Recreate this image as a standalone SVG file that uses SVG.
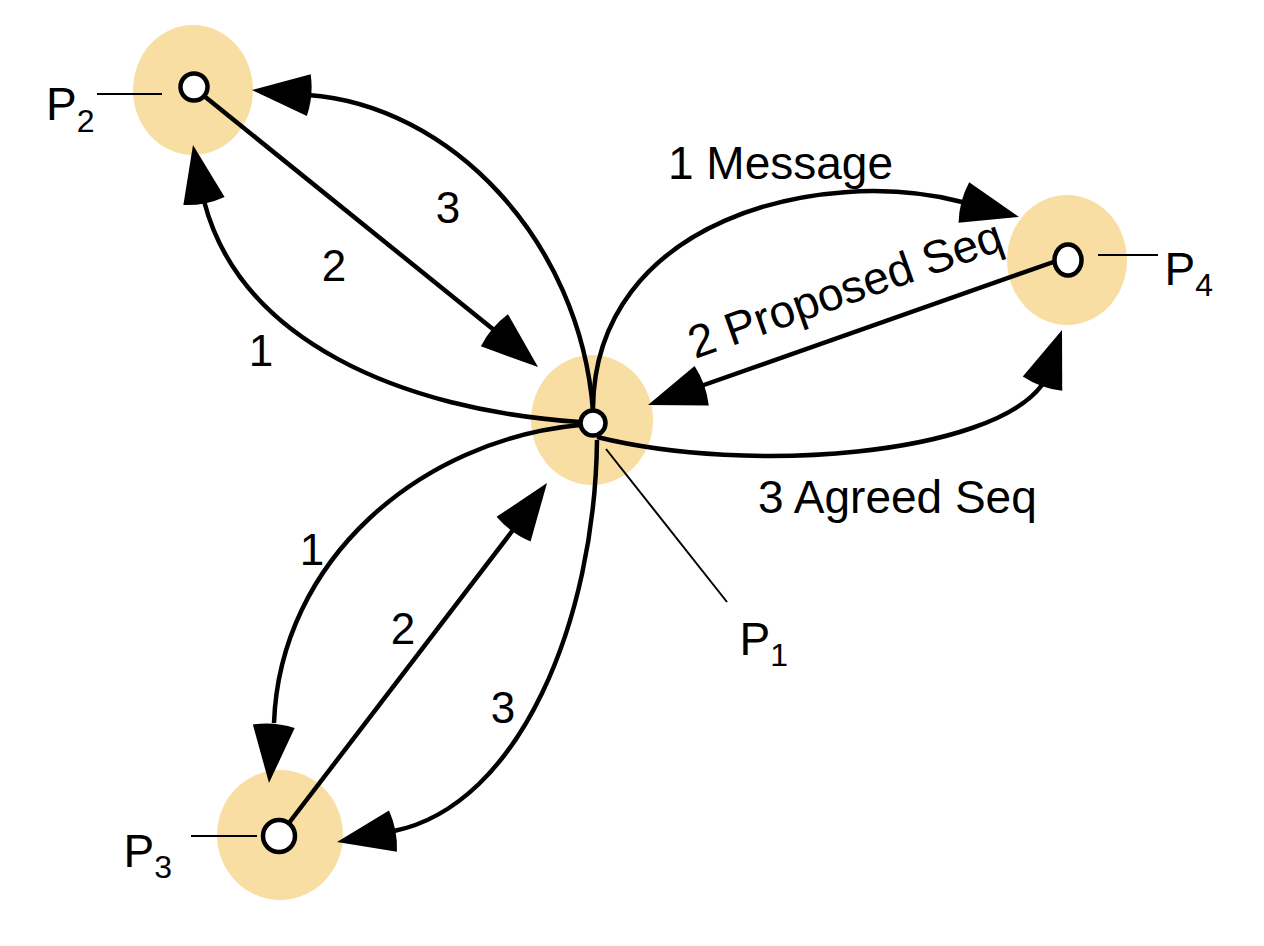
<svg xmlns="http://www.w3.org/2000/svg" xmlns:xlink="http://www.w3.org/1999/xlink" width="1264" height="946" viewBox="0 0 1264 946">
  <style>
    .halo { fill: #F9DEA3; stroke: none; }
    .dot { fill: #FFFFFF; stroke: #000000; stroke-width: 4.5; }
    .conn { fill: none; stroke: #000000; stroke-width: 4.5; }
    .tick { fill: none; stroke: #000000; stroke-width: 2; }
    .lbl { font-family: "Liberation Sans", Arial, Helvetica, sans-serif; font-size: 46px; fill: #000000; }
    .num { font-family: "Liberation Sans", Arial, Helvetica, sans-serif; font-size: 44px; fill: #000000; text-anchor: middle; }
    .pname { font-family: "Liberation Sans", Arial, Helvetica, sans-serif; font-size: 46px; fill: #000000; }
    .sub { font-size: 32px; }
  </style>
  <defs>
    <path id="ah" d="M0,0 L-57,-21 Q-62,0 -57,21 Z" fill="#000000"/>
  </defs>
  <rect width="1264" height="946" fill="#FFFFFF"/>

  <!-- halos -->
  <g id="halos">
    <ellipse class="halo" cx="193" cy="90" rx="60" ry="65"/>
    <ellipse class="halo" cx="592" cy="420" rx="61" ry="65"/>
    <ellipse class="halo" cx="1067" cy="260" rx="60" ry="65"/>
    <ellipse class="halo" cx="280" cy="835" rx="63" ry="65"/>
  </g>

  <!-- connectors -->
  <g id="connectors">
    <!-- P1 to P2 -->
    <path class="conn" d="M593,411 C580,240 450,105 308,95"/>
    <path class="conn" d="M580,422 C400,410 240,340 204,201"/>
    <path class="conn" d="M193,87 L494,330"/>
    <!-- P1 to P4 -->
    <path class="conn" d="M593,408 C595,220 820,165 962,202"/>
    <path class="conn" d="M1062,259 L701,386"/>
    <path class="conn" d="M597,437 C750,475 990,455 1042,385"/>
    <!-- P1 to P3 -->
    <path class="conn" d="M580,425 C420,440 280,560 274,723"/>
    <path class="conn" d="M279,836 L513,530"/>
    <path class="conn" d="M597,440 C595,620 520,805 394,831"/>

    <!-- arrowheads -->
    <use xlink:href="#ah" href="#ah" transform="translate(252,90) rotate(185.2)"/>
    <use xlink:href="#ah" href="#ah" transform="translate(193,145) rotate(258.9)"/>
    <use xlink:href="#ah" href="#ah" transform="translate(538,367) rotate(40.1)"/>
    <use xlink:href="#ah" href="#ah" transform="translate(1019,217) rotate(14.7)"/>
    <use xlink:href="#ah" href="#ah" transform="translate(648,405) rotate(160.3)"/>
    <use xlink:href="#ah" href="#ah" transform="translate(1062,330) rotate(-70)"/>
    <use xlink:href="#ah" href="#ah" transform="translate(269,783) rotate(94.8)"/>
    <use xlink:href="#ah" href="#ah" transform="translate(547,483) rotate(-54.1)"/>
    <use xlink:href="#ah" href="#ah" transform="translate(337,842) rotate(169.1)"/>

    <!-- connector labels -->
    <text class="num" x="448" y="223">3</text>
    <text class="num" x="334" y="281">2</text>
    <text class="num" x="261" y="366">1</text>
    <text class="num" x="312" y="565">1</text>
    <text class="num" x="403" y="644">2</text>
    <text class="num" x="503" y="723">3</text>
    <text class="lbl" x="668" y="179">1 Message</text>
    <text class="lbl" x="758" y="513">3 Agreed Seq</text>
    <text class="lbl" x="0" y="0" font-size="45" transform="translate(695,359) rotate(-19.5)">2 Proposed Seq</text>
  </g>

  <!-- nodes -->
  <g id="P2">
    <line class="tick" x1="97" y1="94" x2="162" y2="94"/>
    <circle class="dot" cx="194" cy="87" r="13.5"/>
    <text class="pname" x="46" y="120">P<tspan class="sub" dy="12">2</tspan></text>
  </g>
  <g id="P1">
    <line class="tick" x1="606" y1="449" x2="727" y2="602"/>
    <circle class="dot" cx="593" cy="423" r="12.5"/>
    <text class="pname" x="739.5" y="655">P<tspan class="sub" dy="11">1</tspan></text>
  </g>
  <g id="P4">
    <line class="tick" x1="1098" y1="255" x2="1158" y2="255"/>
    <ellipse class="dot" cx="1068" cy="260" rx="13.5" ry="15.5"/>
    <text class="pname" x="1164.5" y="285">P<tspan class="sub" dy="11">4</tspan></text>
  </g>
  <g id="P3">
    <line class="tick" x1="191" y1="836" x2="257" y2="836"/>
    <circle class="dot" cx="279" cy="836" r="16"/>
    <text class="pname" x="123.5" y="867">P<tspan class="sub" dy="11">3</tspan></text>
  </g>
</svg>
